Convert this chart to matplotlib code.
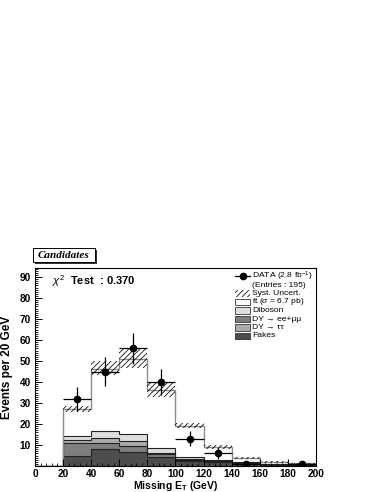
import matplotlib
matplotlib.use('Agg')
import matplotlib.pyplot as plt
from matplotlib.patches import Rectangle
from matplotlib.lines import Line2D
from matplotlib.ticker import MultipleLocator, FixedLocator
import numpy as np

plt.rcParams['font.family'] = ['Liberation Sans', 'DejaVu Sans']
plt.rcParams['mathtext.fontset'] = 'custom'
plt.rcParams['mathtext.rm'] = 'Liberation Sans'
plt.rcParams['mathtext.it'] = 'Liberation Sans:italic'
plt.rcParams['mathtext.bf'] = 'Liberation Sans:bold'
plt.rcParams['hatch.linewidth'] = 0.55

# bins of missing ET (GeV)
edges = np.arange(0, 220, 20)
centers = edges[:-1] + 10

# stacked backgrounds, per bin (events / 20 GeV)
fakes   = [0, 5.0, 8.0, 6.8, 4.4, 2.4, 1.9, 1.2, 0.5, 0.4]
dy_ll   = [0, 6.0, 2.8, 2.8, 1.2, 0.5, 0.4, 0.2, 0.1, 0.1]
dy_tt   = [0, 1.5, 2.7, 2.2, 0.8, 0.4, 0.2, 0.1, 0.1, 0.0]
diboson = [0, 1.8, 3.2, 3.6, 2.4, 1.1, 0.4, 0.3, 0.2, 0.1]
ttbar   = [0, 13.0, 29.3, 35.6, 27.4, 14.6, 6.1, 1.9, 0.9, 0.6]

# systematic band edges
syst_lo = [0, 25.6, 43.3, 46.8, 33.0, 17.9, 8.0, 3.3, 1.5, 1.0]
syst_hi = [0, 28.6, 50.0, 55.6, 39.6, 20.6, 10.0, 4.3, 2.2, 1.4]

# data counts
data = [0, 32, 45, 56, 40, 13, 6, 1, 0, 1]

col_fakes = '#4d4d4d'
col_dyll = '#7f7f7f'
col_dytt = '#ababab'
col_dib = '#dedede'

fig = plt.figure(figsize=(3.8, 4.92), dpi=100)
ax = fig.add_axes([35/380, 26/492, 281/380, 198/492])

c1 = np.array(fakes)
c2 = c1 + np.array(dy_ll)
c3 = c2 + np.array(dy_tt)
c4 = c3 + np.array(diboson)
c5 = c4 + np.array(ttbar)

ax.stairs(c5, edges, baseline=c4, fill=True, color='white')
ax.stairs(c4, edges, baseline=c3, fill=True, color=col_dib)
ax.stairs(c3, edges, baseline=c2, fill=True, color=col_dytt)
ax.stairs(c2, edges, baseline=c1, fill=True, color=col_dyll)
ax.stairs(c1, edges, baseline=0, fill=True, color=col_fakes)
for c in [c1, c2, c3, c4]:
    ax.stairs(c, edges, color='#222222', lw=0.8)
ax.stairs(c5, edges, color='#8c8c8c', lw=1.0)

lo = np.array(syst_lo)
hi = np.array(syst_hi)
ax.bar(centers, hi - lo, width=20, bottom=lo, fill=False, hatch='//////',
       edgecolor='black', linewidth=0)

d = np.array(data, dtype=float)
m = d > 0
ax.errorbar(centers[m], d[m], xerr=10, yerr=np.sqrt(d[m]), fmt='o', color='black',
            ms=4.5, elinewidth=0.9, capsize=0)

ax.set_xlim(0, 200)
ax.set_ylim(0, 94.3)
ax.xaxis.set_major_locator(MultipleLocator(20))
ax.xaxis.set_minor_locator(MultipleLocator(4))
ax.yaxis.set_major_locator(FixedLocator(range(10, 100, 10)))
ax.yaxis.set_minor_locator(MultipleLocator(1))
ax.tick_params(which='both', direction='in', top=False, right=False, labelsize=7.3)
ax.tick_params(which='major', length=5, width=0.7)
ax.tick_params(which='minor', length=2.5, width=0.6)
ax.tick_params(axis='x', pad=2)
ax.tick_params(axis='y', pad=3)
for lab in ax.get_xticklabels() + ax.get_yticklabels():
    lab.set_fontweight('bold')
for s in ax.spines.values():
    s.set_linewidth(0.8)

ax.set_xlabel('Missing E$_\\mathbf{T}$ (GeV)', fontsize=7.5, fontweight='bold')
ax.set_ylabel('Events per 20 GeV', fontsize=8.5, fontweight='bold')
ax.xaxis.set_label_coords(0.5, -0.068)
ax.yaxis.set_label_coords(-0.078, 0.5)

ax.text(0.06, 0.935, '$\\chi^2$  Test  : 0.370', transform=ax.transAxes,
        fontsize=8, fontweight='bold', va='center', ha='left')

# legend drawn by hand
xs0, xs1, xt = 0.712, 0.765, 0.772
bh = 0.034
rows = [0.96, 0.914, 0.872, 0.828, 0.786, 0.742, 0.700, 0.657]
ax.add_line(Line2D([xs0, xs1], [rows[0], rows[0]], color='black', lw=0.9,
                   transform=ax.transAxes))
ax.plot([(xs0 + xs1) / 2], [rows[0]], 'o', color='black', ms=4.5, transform=ax.transAxes)
ax.add_patch(Rectangle((xs0, rows[2] - bh / 2), xs1 - xs0, bh, transform=ax.transAxes,
                       fill=False, hatch='//////', edgecolor='black', linewidth=0))
boxes = [('white', 3), (col_dib, 4), (col_dyll, 5), (col_dytt, 6), (col_fakes, 7)]
for fc, r in boxes:
    ax.add_patch(Rectangle((xs0, rows[r] - bh / 2), xs1 - xs0, bh, transform=ax.transAxes,
                           facecolor=fc, edgecolor='#333333', linewidth=0.6))
labels = ['DATA (2.8 fb$^{-1}$)', '(Entries : 195)', 'Syst. Uncert.',
          't$\\bar{\\mathrm{t}}$ ($\\sigma$ = 6.7 pb)', 'Diboson',
          'DY \u2192 ee+\u03bc\u03bc', 'DY \u2192 \u03c4\u03c4', 'Fakes']
for lab, r in zip(labels, rows):
    ax.text(xt, r, lab, transform=ax.transAxes, fontsize=6.1, va='center', ha='left')

# "Candidates" pave with shadow
fig.patches.append(Rectangle((34.5/380, 228.5/492), 62/380, 14/492, transform=fig.transFigure,
                             facecolor='#333333', edgecolor='none'))
fig.patches.append(Rectangle((33/380, 230/492), 62/380, 14/492, transform=fig.transFigure,
                             facecolor='white', edgecolor='black', lw=0.7))
fig.text(64/380, 237/492, 'Candidates', fontsize=8, fontweight='bold', style='italic',
         family=['Liberation Serif', 'DejaVu Serif'], ha='center', va='center')

fig.savefig('out.png', dpi=100)
